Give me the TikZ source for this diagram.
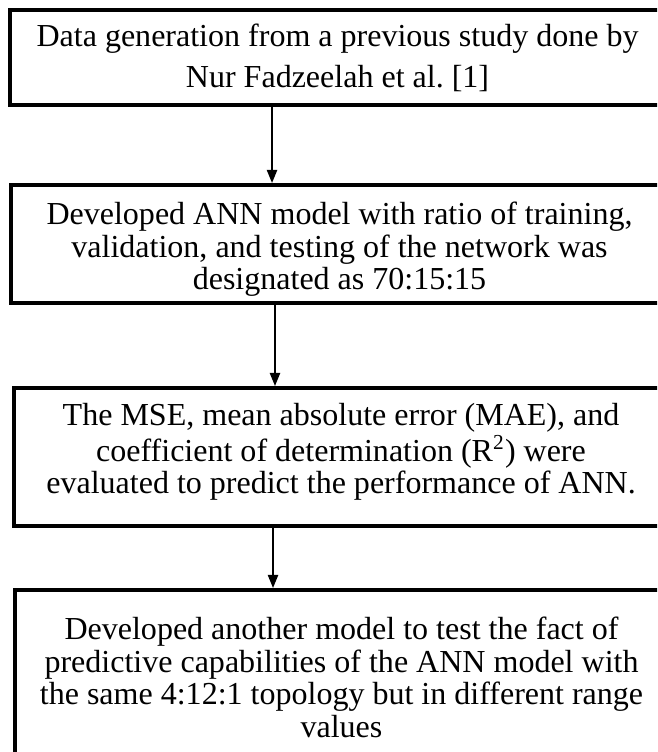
\documentclass[tikz,border=0pt]{standalone}
\usepackage{fontspec}
\setmainfont{Liberation Serif}
\usetikzlibrary{arrows.meta,positioning}

\tikzset{
  flowbox/.style={draw, line width=1.5pt, inner sep=0pt},
  flowtext/.style={align=center, inner sep=0pt, font=\fontsize{12}{12.2}\selectfont},
  flowarrow/.style={-{Triangle[length=4.9pt,width=3.8pt]}, line width=0.7pt}
}

\begin{document}
\begin{tikzpicture}
    % page frame, boxes run off the right edge
    \useasboundingbox (0,0) rectangle (8.654,-9.905);
    \clip (0,0) rectangle (8.654,-9.905);

    % frames of the steps
    \node[flowbox, minimum width=8.628cm, minimum height=1.251cm] (gen) at (4.446,-0.757) {};
    \node[flowbox, minimum width=8.654cm, minimum height=1.554cm] (ann) at (4.472,-3.214) {};
    \node[flowbox, minimum width=8.614cm, minimum height=1.818cm] (evaluate) at (4.492,-6.020) {};
    \node[flowbox, minimum width=8.601cm, minimum height=2.8cm, anchor=north] (another) at (4.498,-7.745) {};

    % texts of the steps
    \node[flowtext, font=\fontsize{12}{15.4}\selectfont] (gentext) at (gen)
        {Data generation from a previous study done by\\Nur Fadzeelah et al.\ [1]};
    \node[flowtext, yshift=-0.07cm] (anntext) at (ann)
        {Developed ANN model with ratio of training,\\validation, and testing of the network was\\designated as 70:15:15};
    \node[flowtext, yshift=0.066cm] (evaluatetext) at (evaluate)
        {The MSE, mean absolute error (MAE), and\\coefficient of determination (R\textsuperscript{2}) were\\evaluated to predict the performance of ANN.};
    \node[flowtext, anchor=north, yshift=-10.7pt] (anothertext) at (another.north)
        {Developed another model to test the fact of\\predictive capabilities of the ANN model with\\the same 4:12:1 topology but in different range\\values};

    % arrows sit left of the box centres
    \coordinate (a1) at (3.583,0);
    \coordinate (a2) at (3.622,0);
    \coordinate (a3) at (3.596,0);
    \draw[flowarrow] (gen.south -| a1) -- (ann.north -| a1);
    \draw[flowarrow] (ann.south -| a2) -- (evaluate.north -| a2);
    \draw[flowarrow] (evaluate.south -| a3) -- (another.north -| a3);
\end{tikzpicture}
\end{document}
